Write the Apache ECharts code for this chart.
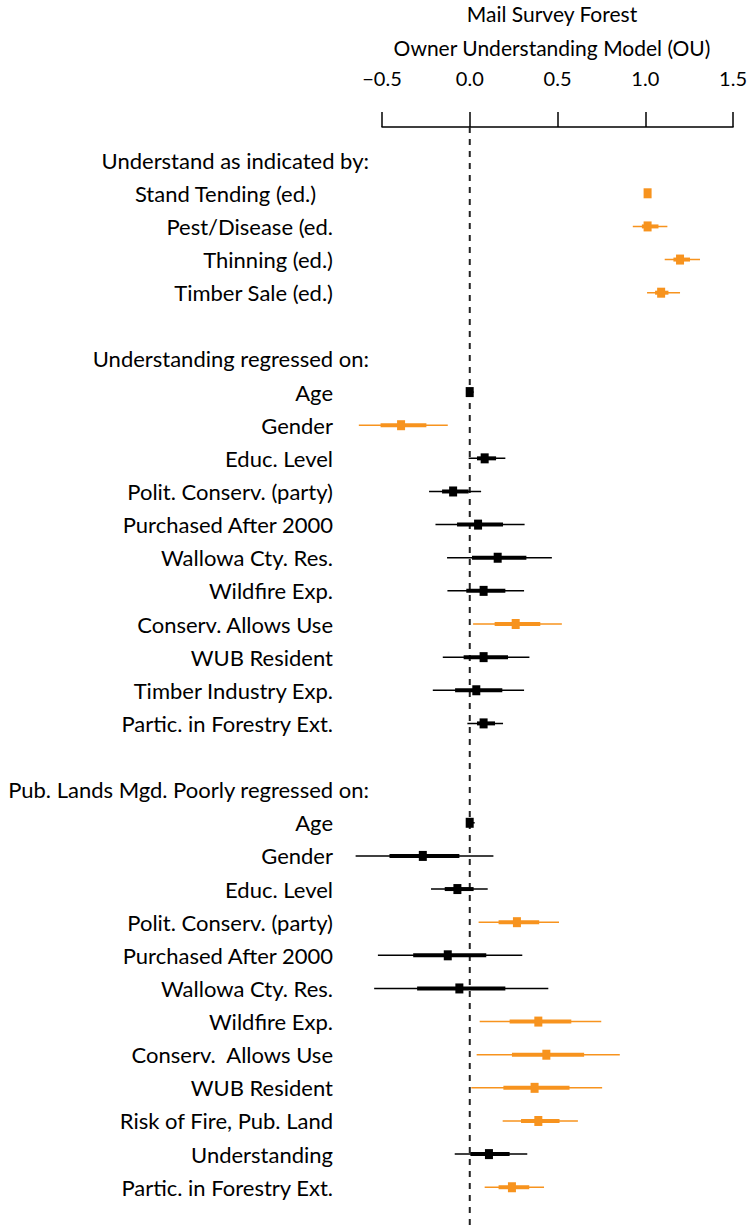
<!DOCTYPE html>
<html>
<head>
<meta charset="utf-8">
<script src="https://cdn.jsdelivr.net/npm/echarts@6/dist/echarts.min.js"></script>
<style>
  html, body { margin: 0; padding: 0; background: #fff; }
  #chart { width: 750px; height: 1230px; }
</style>
</head>
<body>
<div id="chart"></div>
<script>
// ---------- DATA ----------
const titleLines = ['Mail Survey Forest', 'Owner Understanding Model (OU)'];
const tickValues = [-0.5, 0.0, 0.5, 1.0, 1.5];
const tickLabels = ['\u22120.5', '0.0', '0.5', '1.0', '1.5'];
const referenceValue = 0;

const rowLabels = [
  'Understand as indicated by:',
  'Stand Tending (ed.)\u00a0\u00a0\u00a0',
  'Pest/Disease (ed.',
  'Thinning (ed.)',
  'Timber Sale (ed.)',
  '',
  'Understanding regressed on:',
  'Age',
  'Gender',
  'Educ. Level',
  'Polit. Conserv. (party)',
  'Purchased After 2000',
  'Wallowa Cty. Res.',
  'Wildfire Exp.',
  'Conserv. Allows Use',
  'WUB Resident',
  'Timber Industry Exp.',
  'Partic. in Forestry Ext.',
  '',
  'Pub. Lands Mgd. Poorly regressed on:',
  'Age',
  'Gender',
  'Educ. Level',
  'Polit. Conserv. (party)',
  'Purchased After 2000',
  'Wallowa Cty. Res.',
  'Wildfire Exp.',
  'Conserv.  Allows Use',
  'WUB Resident',
  'Risk of Fire, Pub. Land',
  'Understanding',
  'Partic. in Forestry Ext.'
];
const headerRows = [0, 6, 19];

const estimate = [
  null, 0.990, 0.990, 1.172, 1.066,
  null, null,
  -0.008, -0.393, 0.076, -0.101, 0.039, 0.149, 0.070, 0.250, 0.070, 0.029, 0.070,
  null, null,
  -0.008, -0.271, -0.077, 0.257, -0.131, -0.066, 0.377, 0.422, 0.356, 0.377, 0.100, 0.229
];
const outerLow = [
  null, 0.984, 0.907, 1.086, 0.987,
  null, null,
  -0.020, -0.630, -0.014, -0.236, -0.200, -0.135, -0.133, 0.011, -0.159, -0.215, -0.021,
  null, null,
  -0.020, -0.648, -0.225, 0.042, -0.523, -0.544, 0.048, 0.031, 0.001, 0.177, -0.092, 0.076
];
const outerHigh = [
  null, 0.996, 1.101, 1.284, 1.172,
  null, null,
  0.014, -0.131, 0.192, 0.056, 0.300, 0.453, 0.297, 0.509, 0.327, 0.297, 0.179,
  null, null,
  0.020, 0.125, 0.093, 0.493, 0.287, 0.433, 0.730, 0.834, 0.735, 0.599, 0.315, 0.409
];
const innerLow = [
  null, 0.987, 0.958, 1.135, 1.032,
  null, null,
  -0.014, -0.508, 0.033, -0.163, -0.079, 0.005, -0.027, 0.132, -0.042, -0.090, 0.033,
  null, null,
  -0.012, -0.458, -0.148, 0.154, -0.325, -0.303, 0.216, 0.229, 0.181, 0.280, -0.004, 0.154
];
const innerHigh = [
  null, 0.993, 1.051, 1.228, 1.107,
  null, null,
  0.006, -0.251, 0.140, -0.014, 0.179, 0.310, 0.192, 0.388, 0.207, 0.175, 0.134,
  null, null,
  0.008, -0.066, 0.014, 0.382, 0.085, 0.192, 0.562, 0.634, 0.552, 0.496, 0.216, 0.326
];
const significant = [
  0, 1, 1, 1, 1,
  0, 0,
  0, 1, 0, 0, 0, 0, 0, 1, 0, 0, 0,
  0, 0,
  0, 0, 0, 1, 0, 0, 1, 1, 1, 1, 0, 1
];

// ---------- STYLE ----------
const ORANGE = '#F7931E';
const BLACK = '#000000';
const FONT = 'Lato';

const seriesData = [];
for (let i = 0; i < rowLabels.length; i++) {
  if (estimate[i] === null) continue;
  seriesData.push([i, estimate[i], outerLow[i], outerHigh[i], innerLow[i], innerHigh[i], significant[i]]);
}

const chart = echarts.init(document.getElementById('chart'), null, { renderer: 'svg' });

const option = {
  animation: false,
  backgroundColor: '#ffffff',
  title: [
    {
      text: titleLines[0], left: 552, top: 2, textAlign: 'center', padding: 0,
      textStyle: { fontFamily: FONT, fontSize: 21, fontWeight: 'normal', color: '#000', lineHeight: 22 }
    },
    {
      text: titleLines[1], left: 552, top: 36, textAlign: 'center', padding: 0,
      textStyle: { fontFamily: FONT, fontSize: 21, fontWeight: 'normal', color: '#000', lineHeight: 22 }
    }
  ],
  grid: [
    { left: 382, width: 356.5, top: 143.6, height: 1060.2 },
    { left: 382, width: 356.5, top: 127, bottom: 0 }
  ],
  xAxis: [
    {
      gridIndex: 0, type: 'value', min: -0.5, max: 1.5,
      show: false, splitLine: { show: false }
    },
    {
      gridIndex: 1, type: 'value', position: 'top', offset: 9,
      min: -0.5, max: 1.5, interval: 0.5,
      axisLine: { show: true, lineStyle: { color: '#000', width: 1.5 } },
      axisTick: { show: true, inside: false, length: 15, lineStyle: { color: '#000', width: 1.5 } },
      axisLabel: {
        show: true, margin: 30, fontFamily: FONT, fontSize: 20, color: '#000',
        formatter: function (v) {
          const k = tickValues.findIndex(t => Math.abs(t - v) < 1e-9);
          return k >= 0 ? tickLabels[k] : '';
        }
      },
      splitLine: { show: false }
    }
  ],
  yAxis: [
    {
      gridIndex: 0, type: 'category', data: rowLabels, inverse: true,
      axisLine: { show: false }, axisTick: { show: false }, splitLine: { show: false },
      axisLabel: {
        show: true, interval: 0, margin: 13, align: 'right',
        formatter: function (value, idx) {
          if (!value) return '';
          return headerRows.indexOf(idx) >= 0 ? '{h|' + value + '}' : '{i|' + value + '}';
        },
        rich: {
          h: { fontFamily: FONT, fontSize: 22, color: '#000' },
          i: { fontFamily: FONT, fontSize: 22, color: '#000', padding: [0, 36, 0, 0] }
        }
      }
    },
    {
      gridIndex: 1, type: 'value', min: 0, max: 1, inverse: true, show: false,
      splitLine: { show: false }
    }
  ],
  series: [
    {
      type: 'line', xAxisIndex: 1, yAxisIndex: 1, silent: true, symbol: 'none', z: 1,
      data: [[referenceValue, 0], [referenceValue, 1]],
      lineStyle: { color: '#222', width: 2, type: [6, 6] }
    },
    {
      type: 'custom', xAxisIndex: 0, yAxisIndex: 0, z: 5, silent: true,
      data: seriesData,
      encode: { x: [1, 2, 3, 4, 5], y: 0 },
      renderItem: function (params, api) {
        const row = api.value(0);
        const col = api.value(6) ? ORANGE : BLACK;
        const pE = api.coord([api.value(1), row]);
        const pOL = api.coord([api.value(2), row]);
        const pOH = api.coord([api.value(3), row]);
        const pIL = api.coord([api.value(4), row]);
        const pIH = api.coord([api.value(5), row]);
        return {
          type: 'group',
          children: [
            { type: 'line', shape: { x1: pOL[0], y1: pOL[1], x2: pOH[0], y2: pOH[1] },
              style: { stroke: col, lineWidth: 1.5 } },
            { type: 'line', shape: { x1: pIL[0], y1: pIL[1], x2: pIH[0], y2: pIH[1] },
              style: { stroke: col, lineWidth: 4 } },
            { type: 'rect', shape: { x: pE[0] - 4, y: pE[1] - 5, width: 8, height: 10 },
              style: { fill: col } }
          ]
        };
      }
    }
  ]
};

chart.setOption(option);
</script>
</body>
</html>
